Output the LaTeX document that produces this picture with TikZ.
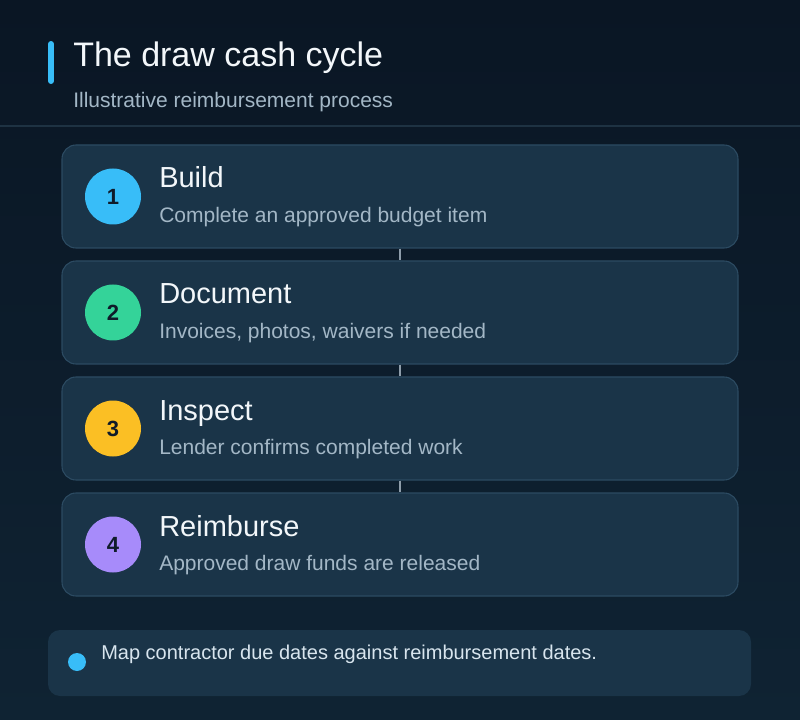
\documentclass[tikz,border=0pt]{standalone}
\usepackage{fontspec}
\setmainfont{Liberation Sans}
\usepackage{xcolor}
\usepackage{tikz}
\usetikzlibrary{positioning}

\definecolor{bgtop}{HTML}{0A1624}
\definecolor{bgbottom}{HTML}{0F2333}
\definecolor{rulecol}{HTML}{1E3243}
\definecolor{cardfill}{HTML}{1A3448}
\definecolor{cardline}{HTML}{2C4B62}
\definecolor{linkcol}{HTML}{8E9DAA}
\definecolor{sky}{HTML}{38BDF8}
\definecolor{mint}{HTML}{34D399}
\definecolor{amber}{HTML}{FBBF24}
\definecolor{violet}{HTML}{A78BFA}
\definecolor{ink}{HTML}{0F1B2A}
\definecolor{headtext}{HTML}{F3F7FA}
\definecolor{subtext}{HTML}{A3B7C6}
\definecolor{notetext}{HTML}{D8E5EE}

\begin{document}
\begin{tikzpicture}[x=0.75pt,y=-0.75pt,
  card/.style={draw=cardline,line width=0.8pt,fill=cardfill,rounded corners=10.5pt,
    minimum width=507pt,minimum height=77.25pt,inner sep=0pt},
  badge/.style={circle,fill=#1,minimum size=42pt,inner sep=0pt,text=ink,
    font=\fontsize{16.5pt}{18pt}\selectfont\bfseries},
  steptitle/.style={anchor=base west,inner sep=0pt,text=headtext,
    font=\fontsize{21.75pt}{24pt}\selectfont},
  stepdesc/.style={anchor=base west,inner sep=0pt,text=subtext,
    font=\fontsize{15.75pt}{18pt}\selectfont},
  link/.style={draw=linkcol,line width=1.8pt}]

\useasboundingbox (0,0) rectangle (800,720);
\shade[top color=bgtop,bottom color=bgbottom] (0,0) rectangle (800,720);
\draw[rulecol,line width=1.5pt] (0,126) -- (800,126);
\draw[sky,line width=4.5pt,line cap=round] (51,44) -- (51,81);

\node[anchor=base west,inner sep=0pt,text=headtext,font=\fontsize{25.5pt}{30pt}\selectfont] (title) at (73,67) {The draw cash cycle};
\node[anchor=base west,inner sep=0pt,text=subtext,font=\fontsize{15.75pt}{18pt}\selectfont] (subtitle) at (73,108) {Illustrative reimbursement process};

\node[card] (build) at (400,196.5) {};
\node[card] (document) at (400,312.5) {};
\node[card] (inspect) at (400,428.5) {};
\node[card] (reimburse) at (400,544.5) {};

\draw[link] (build.south) -- (document.north);
\draw[link] (document.south) -- (inspect.north);
\draw[link] (inspect.south) -- (reimburse.north);

\node[badge=sky] (b1) at (113,196.5) {1};
\node[badge=mint] (b2) at (113,312.5) {2};
\node[badge=amber] (b3) at (113,428.5) {3};
\node[badge=violet] (b4) at (113,544.5) {4};

\node[steptitle] (t1) at (159,188) {Build};
\node[stepdesc] (d1) at (159,222.5) {Complete an approved budget item};
\node[steptitle] (t2) at (159,304) {Document};
\node[stepdesc] (d2) at (159,338.5) {Invoices, photos, waivers if needed};
\node[steptitle] (t3) at (159,420) {Inspect};
\node[stepdesc] (d3) at (159,454.5) {Lender confirms completed work};
\node[steptitle] (t4) at (159,536) {Reimburse};
\node[stepdesc] (d4) at (159,570.5) {Approved draw funds are released};

\node[fill=cardfill,rounded corners=9pt,minimum width=527.25pt,minimum height=49.5pt,inner sep=0pt] (tip) at (399.5,663) {};
\node[circle,fill=sky,minimum size=13.5pt,inner sep=0pt] (dot) at (77,662) {};
\node[anchor=base west,inner sep=0pt,text=notetext,font=\fontsize{15pt}{18pt}\selectfont] (tiptext) at (101,659) {Map contractor due dates against reimbursement dates.};
\end{tikzpicture}
\end{document}
